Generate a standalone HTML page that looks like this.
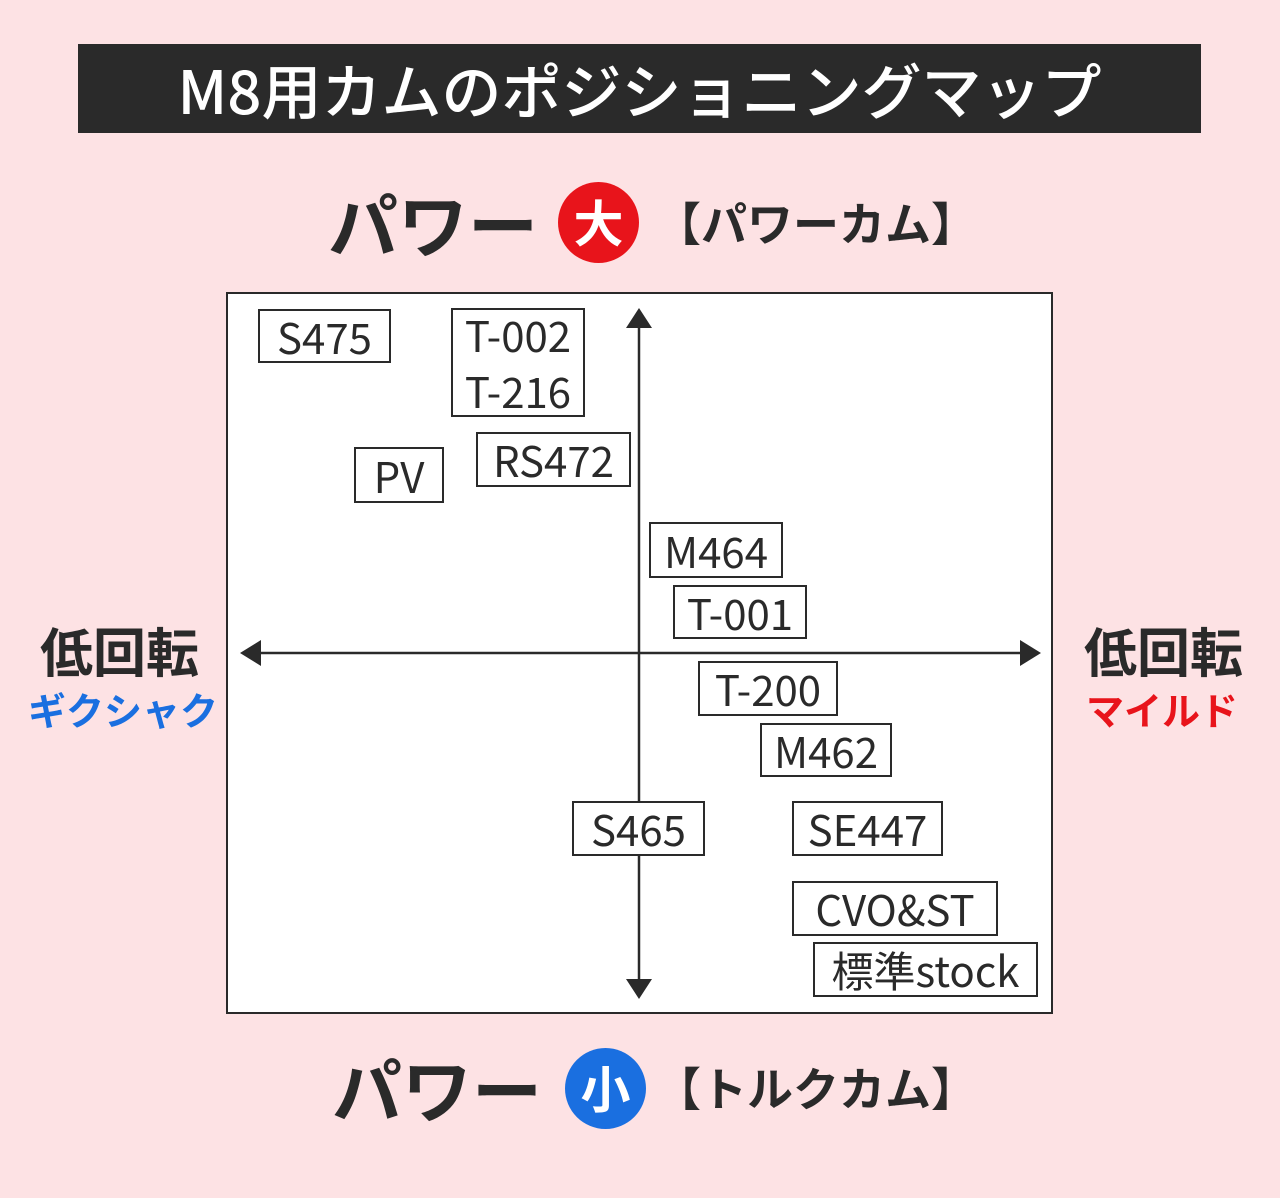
<!DOCTYPE html>
<html><head><meta charset="utf-8"><style>
body{margin:0;width:1280px;height:1198px;background:#fde2e4;position:relative;overflow:hidden;font-family:"Liberation Sans","Noto Sans CJK JP",sans-serif;}
.a{position:absolute;}
.t{position:absolute;white-space:nowrap;line-height:1;}
.lb{position:absolute;border:2px solid #2a2a2a;background:#fff;box-sizing:border-box;font-size:42px;color:#2a2a2a;display:flex;align-items:center;justify-content:center;font-family:"Noto Sans CJK JP",sans-serif;}
.h{font-family:"Noto Sans CJK JP",sans-serif;font-weight:bold;color:#2a2a2a;}
</style></head><body>
<div class="a" style="left:78px;top:44px;width:1123px;height:89px;background:#2a2a2a;"></div>
<div class="t" style="left:78px;top:44px;width:1123px;height:89px;color:#fff;font-size:60px;display:flex;align-items:center;justify-content:center;font-family:'Noto Sans CJK JP',sans-serif;font-weight:500;">M8用カムのポジショニングマップ</div>

<div class="t h" style="left:328px;top:188px;font-size:70px;">パワー</div>
<div class="a" style="left:558px;top:182px;width:81px;height:81px;border-radius:50%;background:#e8141b;"></div>
<div class="t h" style="left:558px;top:196px;width:81px;text-align:center;color:#fff;font-size:50px;">大</div>
<div class="t h" style="left:655px;top:199px;font-size:46px;">【パワーカム】</div>

<div class="t h" style="left:332px;top:1053px;font-size:70px;">パワー</div>
<div class="a" style="left:565px;top:1048px;width:81px;height:81px;border-radius:50%;background:#1a6fe0;"></div>
<div class="t h" style="left:565px;top:1062px;width:81px;text-align:center;color:#fff;font-size:50px;">小</div>
<div class="t h" style="left:655px;top:1064px;font-size:46px;">【トルクカム】</div>

<div class="t h" style="left:40px;top:624px;font-size:53px;">低回転</div>
<div class="t h" style="left:28px;top:690px;font-size:38px;color:#1a6fe0;">ギクシャク</div>
<div class="t h" style="left:1084px;top:624px;font-size:53px;">低回転</div>
<div class="t h" style="left:1086px;top:690px;font-size:38px;color:#e8141b;">マイルド</div>

<div class="a" style="left:226px;top:292px;width:827px;height:722px;background:#fff;border:2px solid #2a2a2a;box-sizing:border-box;"></div>
<svg class="a" style="left:0;top:0" width="1280" height="1198">
<line x1="639" y1="320" x2="639" y2="988" stroke="#2a2a2a" stroke-width="2.5"/>
<polygon points="639,308 626,328 652,328" fill="#2a2a2a"/>
<polygon points="639,999 626,979 652,979" fill="#2a2a2a"/>
<line x1="252" y1="653" x2="1028" y2="653" stroke="#2a2a2a" stroke-width="2.5"/>
<polygon points="240,653 261,640 261,666" fill="#2a2a2a"/>
<polygon points="1041,653 1020,640 1020,666" fill="#2a2a2a"/>
</svg>

<div class="lb" style="left:258px;top:309px;width:133px;height:54px;">S475</div>
<div class="lb" style="left:451px;top:308px;width:134px;height:109px;flex-direction:column;line-height:56px;"><span>T-002</span><span>T-216</span></div>
<div class="lb" style="left:476px;top:432px;width:155px;height:55px;">RS472</div>
<div class="lb" style="left:354px;top:447px;width:90px;height:56px;">PV</div>
<div class="lb" style="left:649px;top:522px;width:134px;height:56px;">M464</div>
<div class="lb" style="left:673px;top:585px;width:134px;height:54px;">T-001</div>
<div class="lb" style="left:698px;top:661px;width:140px;height:55px;">T-200</div>
<div class="lb" style="left:760px;top:723px;width:132px;height:54px;">M462</div>
<div class="lb" style="left:572px;top:801px;width:133px;height:55px;">S465</div>
<div class="lb" style="left:792px;top:801px;width:151px;height:55px;">SE447</div>
<div class="lb" style="left:792px;top:881px;width:206px;height:55px;">CVO&amp;ST</div>
<div class="lb" style="left:813px;top:942px;width:225px;height:55px;">標準stock</div>
</body></html>
